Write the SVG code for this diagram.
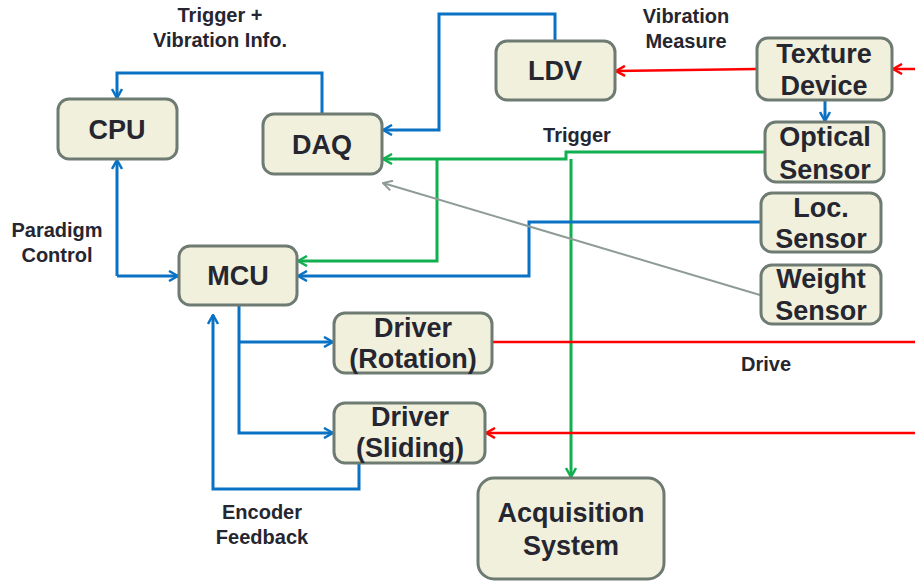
<svg xmlns="http://www.w3.org/2000/svg" width="915" height="581" viewBox="0 0 915 581">
<style>
.box{fill:#f0f0dc;stroke:#6e7b72;stroke-width:3}
.t{font-family:"Liberation Sans",Arial,sans-serif;font-weight:bold;fill:#262630;text-anchor:middle}
.n{font-size:27px}
.l{font-size:20px}
.c{fill:none;stroke-width:3}
.b{stroke:#0a72c4}
.g{stroke:#10b050}
.r{stroke:#ff0000;stroke-width:2.5}
.y{stroke:#8f9c96;stroke-width:2}
</style>
<defs>
<marker id="ab" viewBox="0 0 12 12" refX="11" refY="6" markerWidth="12" markerHeight="12" markerUnits="userSpaceOnUse" orient="auto"><path d="M2,1 L11,6 L2,11" fill="none" stroke="#0a72c4" stroke-width="2.5"/></marker>
<marker id="ag" viewBox="0 0 12 12" refX="11" refY="6" markerWidth="12" markerHeight="12" markerUnits="userSpaceOnUse" orient="auto"><path d="M2,1 L11,6 L2,11" fill="none" stroke="#10b050" stroke-width="2.5"/></marker>
<marker id="ar" viewBox="0 0 12 12" refX="11" refY="6" markerWidth="12" markerHeight="12" markerUnits="userSpaceOnUse" orient="auto"><path d="M2,1 L11,6 L2,11" fill="none" stroke="#ff0000" stroke-width="2.5"/></marker>
<marker id="ay" viewBox="0 0 12 12" refX="11" refY="6" markerWidth="12" markerHeight="12" markerUnits="userSpaceOnUse" orient="auto"><path d="M2,1 L11,6 L2,11" fill="none" stroke="#8f9c96" stroke-width="2"/></marker>
</defs>
<g id="connectors">
<path class="c b" d="M322,114 V73 H117 V98" marker-end="url(#ab)"/>
<path class="c b" d="M117,276 H178" marker-end="url(#ab)"/>
<path class="c b" d="M117,276 V160" marker-end="url(#ab)"/>
<path class="c b" d="M555,41 V14 H439 V130 H383" marker-end="url(#ab)"/>
<path class="c r" d="M757,69 L616,71" marker-end="url(#ar)"/>
<path class="c r" d="M915,69 H893" marker-end="url(#ar)"/>
<path class="c b" d="M825,100 V121" marker-end="url(#ab)"/>
<path class="c g" d="M765,152 H566 V159 H383" marker-end="url(#ag)"/>
<path class="c g" d="M571,159 V477" marker-end="url(#ag)"/>
<path class="c g" d="M437,159 V261 H298" marker-end="url(#ag)"/>
<path class="c b" d="M761,222 H529 V276 H298" marker-end="url(#ab)"/>
<path class="c y" d="M760,295 L383,183" marker-end="url(#ay)"/>
<path class="c b" d="M239,305 V433 H333" marker-end="url(#ab)"/>
<path class="c b" d="M239,342 H333" marker-end="url(#ab)"/>
<path class="c b" d="M359,463 V489 H213 V315" marker-end="url(#ab)"/>
<path class="c r" d="M492,342 H915"/>
<path class="c r" d="M915,433 H486" marker-end="url(#ar)"/>
</g>
<g id="cpu"><rect class="box" x="58" y="99" width="119" height="60" rx="11"/><text class="t n" x="117" y="139">CPU</text></g>
<g id="daq"><rect class="box" x="263" y="114" width="119" height="60" rx="11"/><text class="t n" x="322" y="154">DAQ</text></g>
<g id="mcu"><rect class="box" x="179" y="246" width="118" height="59" rx="11"/><text class="t n" x="238" y="285">MCU</text></g>
<g id="ldv"><rect class="box" x="496" y="41" width="119" height="59" rx="11"/><text class="t n" x="555" y="80">LDV</text></g>
<g id="texture"><rect class="box" x="757" y="38" width="135" height="62" rx="11"/><text class="t n" x="824" y="63">Texture</text><text class="t n" x="824" y="95">Device</text></g>
<g id="optical"><rect class="box" x="765" y="122" width="119" height="60" rx="11"/><text class="t n" x="825" y="146">Optical</text><text class="t n" x="825" y="179">Sensor</text></g>
<g id="loc"><rect class="box" x="761" y="193" width="120" height="59" rx="11"/><text class="t n" x="821" y="217">Loc.</text><text class="t n" x="821" y="248">Sensor</text></g>
<g id="weight"><rect class="box" x="761" y="265" width="120" height="59" rx="11"/><text class="t n" x="821" y="288">Weight</text><text class="t n" x="821" y="320">Sensor</text></g>
<g id="drvrot"><rect class="box" x="334" y="313" width="158" height="60" rx="11"/><text class="t n" x="413" y="337">Driver</text><text class="t n" x="413" y="368">(Rotation)</text></g>
<g id="drvsl"><rect class="box" x="334" y="403" width="151" height="60" rx="11"/><text class="t n" x="410" y="426">Driver</text><text class="t n" x="410" y="457">(Sliding)</text></g>
<g id="acq"><rect class="box" x="478" y="478" width="186" height="101" rx="16"/><text class="t" font-size="27" x="571" y="522">Acquisition</text><text class="t" font-size="27" x="571" y="555">System</text></g>
<g id="labels">
<text class="t l" x="220" y="22">Trigger +</text>
<text class="t l" x="220" y="47">Vibration Info.</text>
<text class="t l" x="686" y="23">Vibration</text>
<text class="t l" x="686" y="48">Measure</text>
<text class="t l" x="577" y="142">Trigger</text>
<text class="t l" x="57" y="237">Paradigm</text>
<text class="t l" x="57" y="262">Control</text>
<text class="t l" x="766" y="371">Drive</text>
<text class="t l" x="262" y="519">Encoder</text>
<text class="t l" x="262" y="544">Feedback</text>
</g>
</svg>
